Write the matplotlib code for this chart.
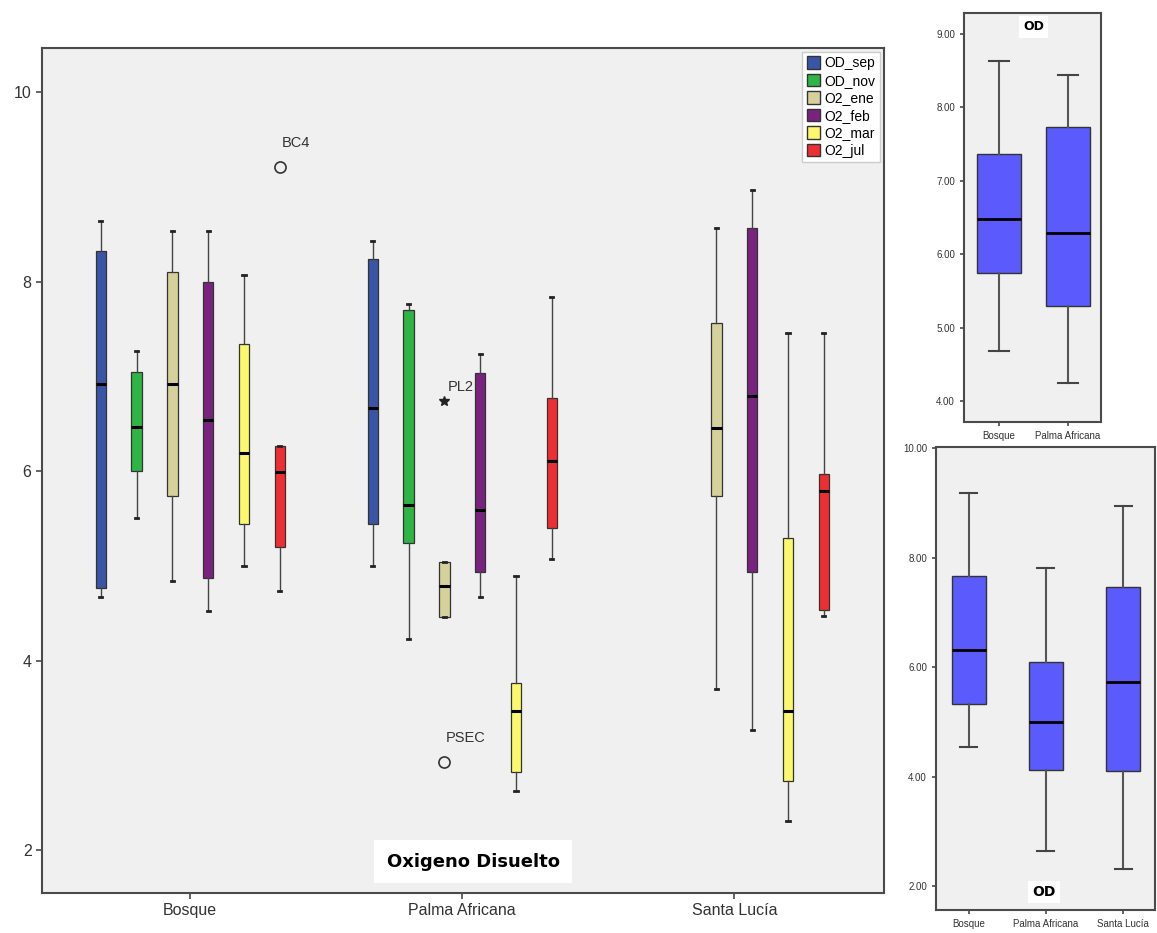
import numpy as np
import matplotlib
matplotlib.use('Agg')
import matplotlib.pyplot as plt
from matplotlib.patches import Patch

# main chart data: (whislo, q1, med, q3, whishi) per site, None = no data
groups = ["Bosque", "Palma Africana", "Santa Lucía"]
series = ["OD_sep", "OD_nov", "O2_ene", "O2_feb", "O2_mar", "O2_jul"]
colors = ["#3a55a6", "#2fb446", "#d6d09c", "#7a2280", "#fbf86e", "#ee2e33"]

od_sep = [(4.67, 4.77, 6.92, 8.33, 8.64), (5.00, 5.44, 6.67, 8.24, 8.43), None]
od_nov = [(5.51, 6.00, 6.47, 7.05, 7.27), (4.23, 5.24, 5.65, 7.70, 7.77), None]
o2_ene = [(4.84, 5.74, 6.92, 8.10, 8.54), (4.46, 4.46, 4.79, 5.04, 5.04), (3.70, 5.74, 6.46, 7.57, 8.57)]
o2_feb = [(4.53, 4.88, 6.54, 8.00, 8.54), (4.67, 4.94, 5.59, 7.04, 7.24), (3.27, 4.94, 6.80, 8.57, 8.97)]
o2_mar = [(5.00, 5.44, 6.19, 7.34, 8.07), (2.63, 2.83, 3.47, 3.77, 4.90), (2.31, 2.73, 3.47, 5.30, 7.46)]
o2_jul = [(4.74, 5.20, 5.99, 6.27, 6.27), (5.08, 5.40, 6.11, 6.77, 7.84), (4.47, 4.54, 5.79, 5.97, 7.46)]
all_series = [od_sep, od_nov, o2_ene, o2_feb, o2_mar, o2_jul]

# outliers: (label, group index, series index, value, marker)
outliers = [("BC4", 0, 5, 9.21, "o"), ("PL2", 1, 2, 6.74, "*"), ("PSEC", 1, 2, 2.93, "o")]

# small panels (OD pooled)
top_groups = ["Bosque", "Palma Africana"]
od_top = [(4.68, 5.75, 6.48, 7.36, 8.63), (4.25, 5.29, 6.29, 7.73, 8.43)]
bot_groups = ["Bosque", "Palma Africana", "Santa Lucía"]
od_bot = [(4.54, 5.33, 6.32, 7.66, 9.19), (2.64, 4.12, 4.99, 6.10, 7.82), (2.31, 4.10, 5.72, 7.47, 8.95)]


def to_stats(t):
    return dict(whislo=t[0], q1=t[1], med=t[2], q3=t[3], whishi=t[4], fliers=[])


def style_ax(ax, fs):
    ax.set_facecolor('#f0f0f0')
    for s in ax.spines.values():
        s.set_color('#4a4a4a')
        s.set_linewidth(1.5)
    ax.tick_params(colors='#4a4a4a', labelcolor='#333333', labelsize=fs, length=4, width=1.2)


plt.rcParams['font.family'] = ['Liberation Sans', 'DejaVu Sans']
fig = plt.figure(figsize=(11.57, 9.33), dpi=100)

# ---- main grouped boxplot ----
ax = fig.add_axes([0.0363, 0.0429, 0.7277, 0.9057])
style_ax(ax, 11.5)
gpos = np.arange(len(groups))
step = 0.1316
for i, data in enumerate(all_series):
    off = (i - 2.5) * step
    stats = [to_stats(t) for t in data if t is not None]
    pos = [gpos[k] + off for k, t in enumerate(data) if t is not None]
    ax.bxp(stats, positions=pos, widths=0.038, patch_artist=True, showfliers=False,
           manage_ticks=False, capwidths=0.012,
           boxprops=dict(facecolor=colors[i], edgecolor='#333333', linewidth=0.9),
           whiskerprops=dict(color='#444444', linewidth=1.0),
           capprops=dict(color='#222222', linewidth=2.0),
           medianprops=dict(color='black', linewidth=2.2))

for lab, g, s, v, m in outliers:
    x = gpos[g] + (s - 2.5) * step
    if m == "o":
        ax.plot(x, v, 'o', mfc='none', mec='#333333', ms=8, mew=1.2)
        ax.text(x + 0.006, v + 0.18, lab, fontsize=10.5, color='#333333', va='bottom')
    else:
        ax.plot(x, v, '*', color='#222222', ms=7)
        ax.text(x + 0.012, v + 0.08, lab, fontsize=10.5, color='#333333', va='bottom')

ax.set_xlim(-0.545, 2.55)
ax.set_ylim(1.55, 10.47)
ax.set_xticks(gpos)
ax.set_xticklabels(groups)
ax.set_yticks([2, 4, 6, 8, 10])
ax.text(0.512, 0.037, "Oxigeno Disuelto", transform=ax.transAxes, ha='center', va='center',
        fontsize=13, fontweight='bold', family='DejaVu Sans',
        bbox=dict(facecolor='white', edgecolor='none', pad=9))

handles = [Patch(facecolor=c, edgecolor='#333333', label=l) for c, l in zip(colors, series)]
leg = ax.legend(handles=handles, loc='upper right', fontsize=10, frameon=True, fancybox=False,
                borderaxespad=0.3, handlelength=1.0, handleheight=1.0, handletextpad=0.3,
                labelspacing=0.25, borderpad=0.3)
leg.get_frame().set_edgecolor('#cccccc')
leg.get_frame().set_facecolor('white')
leg.get_frame().set_alpha(1)

# ---- top right small panel ----
ax2 = fig.add_axes([0.8332, 0.5477, 0.1184, 0.4384])
style_ax(ax2, 7)
ax2.bxp([to_stats(t) for t in od_top], positions=np.arange(len(od_top)), widths=0.65,
        patch_artist=True, showfliers=False, capwidths=0.3,
        boxprops=dict(facecolor='#5a5afd', edgecolor='#333333', linewidth=1.0),
        whiskerprops=dict(color='#555555', linewidth=1.5),
        capprops=dict(color='#444444', linewidth=1.5),
        medianprops=dict(color='black', linewidth=2.0))
ax2.set_xlim(-0.507, 1.478)
ax2.set_ylim(3.72, 9.28)
ax2.set_xticks(np.arange(len(top_groups)))
ax2.set_xticklabels(top_groups)
ax2.set_yticks([4, 5, 6, 7, 8, 9])
ax2.set_yticklabels(["%.2f" % v for v in [4, 5, 6, 7, 8, 9]])
ax2.tick_params(length=3)
ax2.text(0.51, 0.966, "OD", transform=ax2.transAxes, ha='center', va='center', fontsize=9,
         fontweight='bold', family='DejaVu Sans',
         bbox=dict(facecolor='white', edgecolor='none', pad=3))

# ---- bottom right small panel ----
ax3 = fig.add_axes([0.809, 0.0247, 0.189, 0.4965])
style_ax(ax3, 7)
ax3.bxp([to_stats(t) for t in od_bot], positions=np.arange(len(od_bot)), widths=0.44,
        patch_artist=True, showfliers=False, capwidths=0.22,
        boxprops=dict(facecolor='#5a5afd', edgecolor='#333333', linewidth=1.0),
        whiskerprops=dict(color='#555555', linewidth=1.5),
        capprops=dict(color='#444444', linewidth=1.5),
        medianprops=dict(color='black', linewidth=2.0))
ax3.set_xlim(-0.423, 2.41)
ax3.set_ylim(1.56, 10.03)
ax3.set_xticks(np.arange(len(bot_groups)))
ax3.set_xticklabels(bot_groups)
ax3.set_yticks([2, 4, 6, 8, 10])
ax3.set_yticklabels(["%.2f" % v for v in [2, 4, 6, 8, 10]])
ax3.tick_params(length=3)
ax3.text(0.495, 0.039, "OD", transform=ax3.transAxes, ha='center', va='center', fontsize=10,
         fontweight='bold', family='DejaVu Sans',
         bbox=dict(facecolor='white', edgecolor='none', pad=3))

fig.savefig('out.png', dpi=100)
